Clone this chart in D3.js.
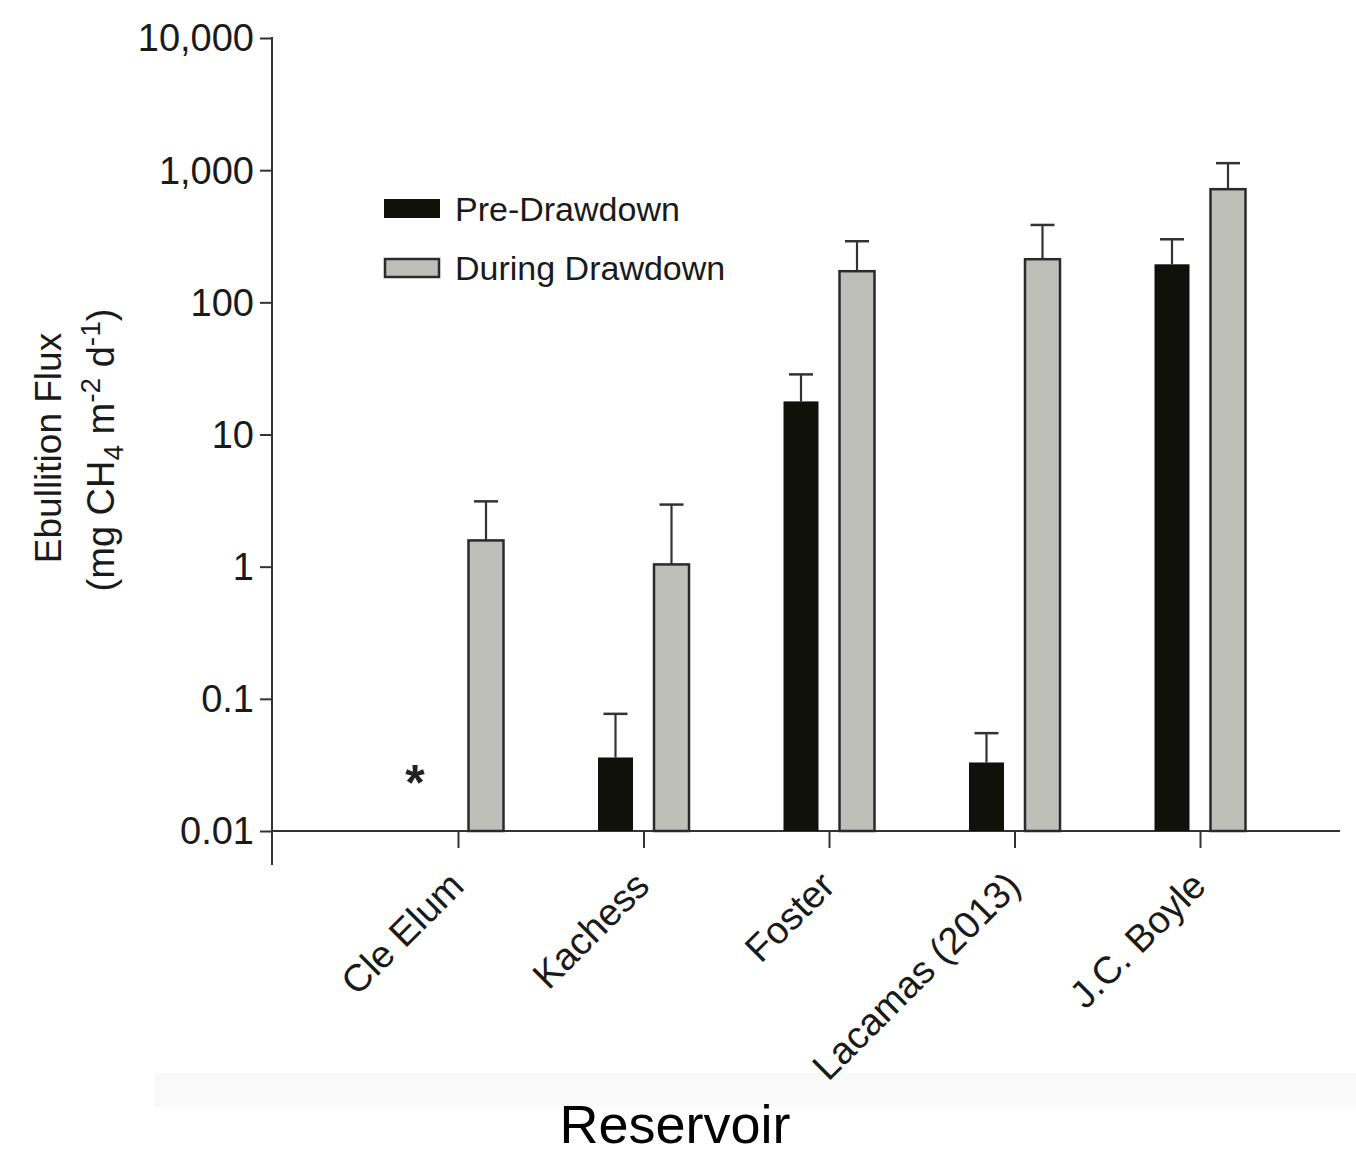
<!DOCTYPE html>
<html><head><meta charset="utf-8">
<script src="https://cdn.jsdelivr.net/npm/d3@7"></script>
<style>body{margin:0;background:#fff}svg{display:block;font-family:"Liberation Sans",Arial,sans-serif}</style>
</head><body>
<script>
const categories = ["Cle Elum", "Kachess", "Foster", "Lacamas (2013)", "J.C. Boyle"];
const preValues = [null, 0.036, 17.8, 0.033, 194];
const preErrors = [null, 0.077, 28.5, 0.055, 300];
const duringValues = [1.58, 1.04, 172, 212, 718];
const duringErrors = [3.12, 2.95, 290, 385, 1130];
const yTickValues = [0.01, 0.1, 1, 10, 100, 1000, 10000];
const yTickLabels = ["0.01", "0.1", "1", "10", "100", "1,000", "10,000"];
const seriesNames = ["Pre-Drawdown", "During Drawdown"];

const W = 1356, H = 1157;
const svg = d3.select("body").append("svg").attr("width", W).attr("height", H);
const FF = "Liberation Sans, Arial, sans-serif";

// faint scan band
svg.append("rect").attr("x",155).attr("y",1073).attr("width",1201).attr("height",34).attr("fill","#f9f9f9");

const y = d3.scaleLog().domain([0.01, 10000]).range([831, 38]);
const x = d3.scalePoint().domain(categories).range([458, 1200]);
const axisColor = "#333";
const preFill = "#11110c", durFill = "#bebfb9";
const bw = 35, off = 28;

// Y axis
const yAxis = d3.axisLeft(y).tickValues(yTickValues).tickFormat((d,i)=>yTickLabels[i]).tickSize(12).tickSizeOuter(0);
const gy = svg.append("g").attr("transform","translate(272,0)").call(yAxis);
gy.select(".domain").remove();
gy.selectAll(".tick line").attr("stroke",axisColor).attr("stroke-width",2);
gy.selectAll(".tick text").attr("font-size",38).attr("fill","#1a1a1a").attr("x",-18).attr("dy","0.34em").attr("font-family",FF);
svg.append("line").attr("x1",272).attr("x2",272).attr("y1",y(10000)-1).attr("y2",865).attr("stroke",axisColor).attr("stroke-width",2);

// X axis
svg.append("line").attr("x1",272).attr("x2",1340).attr("y1",y(0.01)).attr("y2",y(0.01)).attr("stroke",axisColor).attr("stroke-width",2);
const xAxis = d3.axisBottom(x).tickSize(17).tickSizeOuter(0).tickFormat("");
const gx = svg.append("g").attr("transform",`translate(0,${y(0.01)})`).call(xAxis);
gx.select(".domain").remove();
gx.selectAll(".tick line").attr("stroke",axisColor).attr("stroke-width",2);

// x labels
svg.selectAll(".xl").data(categories).join("text")
  .attr("class","xl")
  .attr("transform",d=>`translate(${x(d)+8},${888}) rotate(-45)`)
  .attr("text-anchor","end").attr("font-size",38).attr("fill","#1a1a1a").text(d=>d);

// error bars + bars
function drawSeries(vals, errs, dx, fill, stroke) {
  categories.forEach((c,i)=>{
    if (vals[i]==null) return;
    const cx = x(c)+dx;
    svg.append("line").attr("x1",cx).attr("x2",cx).attr("y1",y(vals[i])).attr("y2",y(errs[i])).attr("stroke",axisColor).attr("stroke-width",2.2);
    svg.append("line").attr("x1",cx-12).attr("x2",cx+12).attr("y1",y(errs[i])).attr("y2",y(errs[i])).attr("stroke",axisColor).attr("stroke-width",2.5);
    svg.append("rect").attr("x",cx-bw/2).attr("y",y(vals[i])).attr("width",bw).attr("height",y(0.01)-y(vals[i]))
      .attr("fill",fill).attr("stroke",stroke).attr("stroke-width",stroke==="none"?0:2.5);
  });
}
drawSeries(preValues, preErrors, -off, preFill, "none");
drawSeries(duringValues, duringErrors, off, durFill, "#2a2a2a");

// asterisk for missing pre value
svg.append("text").attr("x",x(categories[0])-43).attr("y",800).attr("text-anchor","middle").attr("font-size",50).attr("font-weight","bold").attr("fill","#222").text("*");

// legend
const lg = svg.append("g");
lg.append("rect").attr("x",384).attr("y",199).attr("width",56).attr("height",19).attr("fill",preFill);
lg.append("rect").attr("x",385).attr("y",259).attr("width",54).attr("height",18).attr("fill",durFill).attr("stroke","#2a2a2a").attr("stroke-width",2.5);
lg.append("text").attr("x",455).attr("y",221).attr("font-size",34).attr("fill","#1a1a1a").text(seriesNames[0]);
lg.append("text").attr("x",455).attr("y",280).attr("font-size",34).attr("fill","#1a1a1a").text(seriesNames[1]);

// y title
const yt = svg.append("text").attr("transform","translate(61,448) rotate(-90)").attr("text-anchor","middle").attr("font-size",37).attr("fill","#1a1a1a");
yt.append("tspan").attr("x",0).attr("y",0).text("Ebullition Flux");
const l2 = svg.append("text").attr("transform","translate(114,450) rotate(-90)").attr("text-anchor","middle").attr("font-size",38).attr("fill","#1a1a1a");
l2.append("tspan").text("(mg CH");
l2.append("tspan").attr("font-size",28).attr("dy",9).text("4");
l2.append("tspan").attr("dy",-9).text(" m");
l2.append("tspan").attr("font-size",28).attr("dy",-14).text("-2");
l2.append("tspan").attr("dy",14).text(" d");
l2.append("tspan").attr("font-size",28).attr("dy",-14).text("-1");
l2.append("tspan").attr("dy",14).text(")");

// x title
svg.append("text").attr("x",675).attr("y",1143).attr("text-anchor","middle").attr("font-size",54).attr("fill","#000").text("Reservoir");
</script>
</body></html>
